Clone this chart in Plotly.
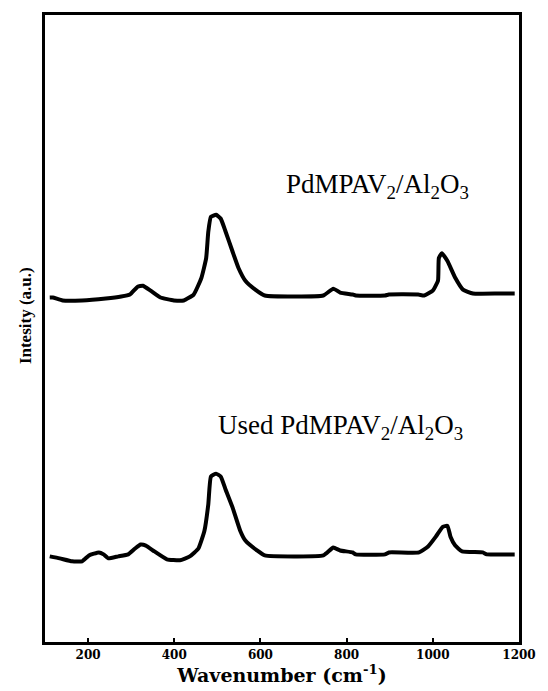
import plotly.graph_objects as go

# Raman spectra of the fresh and used catalyst (offset stacked, arbitrary units)
wn_fresh = [111, 118, 141, 186, 241, 277, 297, 315, 327, 345, 368, 399, 422, 445, 463, 474,
            479, 485, 497, 508, 519, 535, 549, 565, 588, 610, 746, 769, 785, 814, 821, 889,
            898, 966, 980, 1000, 1012, 1014, 1021, 1034, 1052, 1070, 1093, 1154, 1190]
int_fresh = [350, 350, 347, 347, 349, 351, 353, 361, 362, 357, 350, 347, 347, 353, 370, 390,
             417, 432, 434, 430, 417, 397, 380, 367, 358, 352, 352, 359, 355, 353, 352, 352,
             353, 353, 352, 357, 367, 390, 395, 387, 370, 358, 354, 354, 354]

wn_used = [111, 134, 163, 186, 202, 225, 236, 247, 270, 293, 309, 322, 334, 354, 383, 413,
           436, 456, 470, 479, 485, 497, 508, 519, 535, 553, 565, 592, 610, 746, 769, 785,
           814, 821, 889, 898, 968, 989, 1007, 1023, 1034, 1041, 1052, 1068, 1116, 1125,
           1154, 1190]
int_used = [87, 85, 82, 82, 88, 91, 89, 85, 87, 89, 95, 99, 98, 92, 84, 83,
            87, 95, 113, 140, 168, 171, 168, 155, 137, 113, 103, 93, 88, 88, 96, 93,
            91, 89, 89, 91, 91, 97, 107, 117, 118, 107, 98, 92, 91, 89,
            89, 89]

x_ticks = [200, 400, 600, 800, 1000, 1200]
label_fresh = "PdMPAV<sub>2</sub>/Al<sub>2</sub>O<sub>3</sub>"
label_used = "Used PdMPAV<sub>2</sub>/Al<sub>2</sub>O<sub>3</sub>"

fig = go.Figure()
for xs, ys in [(wn_fresh, int_fresh), (wn_used, int_used)]:
    fig.add_trace(go.Scatter(x=xs, y=ys, mode="lines",
                             line=dict(color="black", width=4, shape="spline", smoothing=0.4),
                             showlegend=False, hoverinfo="skip"))

serif = "Liberation Serif, Times New Roman, serif"
fig.add_annotation(x=871, y=463, xref="x", yref="y", text=label_fresh, showarrow=False,
                   font=dict(family=serif, size=27, color="black"))
fig.add_annotation(x=785, y=218, xref="x", yref="y", text=label_used, showarrow=False,
                   font=dict(family=serif, size=27, color="black"))
fig.add_annotation(x=-0.064, y=0.52, xref="paper", yref="paper", text="Intesity (a.u.)",
                   showarrow=False, textangle=-90,
                   font=dict(family=serif, size=17, color="black", weight="bold"))

fig.update_layout(
    width=548, height=691,
    margin=dict(l=45, r=18, t=13, b=41),
    paper_bgcolor="white", plot_bgcolor="white",
    xaxis=dict(range=[100, 1200], tickvals=x_ticks, ticks="inside", ticklen=4, tickwidth=2,
               tickcolor="black", showgrid=False, zeroline=False, showline=True,
               linecolor="black", linewidth=3, mirror=True,
               tickfont=dict(family="DejaVu Serif", size=12, color="black", weight="bold"),
               title=dict(text="Wavenumber (cm<sup>-1</sup>)", standoff=3,
                          font=dict(family="DejaVu Serif", size=19, color="black", weight="bold"))),
    yaxis=dict(range=[0, 637], showticklabels=False, ticks="", showgrid=False, zeroline=False,
               showline=True, linecolor="black", linewidth=3, mirror=True),
)

fig.write_html("out.html")
